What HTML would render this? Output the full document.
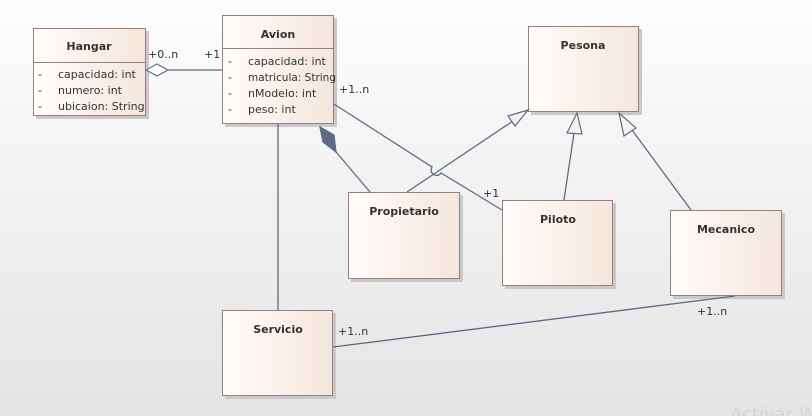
<!DOCTYPE html>
<html><head><meta charset="utf-8"><style>
html,body{margin:0;padding:0;width:812px;height:416px;overflow:hidden}
svg{display:block}
text{font-family:"DejaVu Sans","Liberation Sans",sans-serif;fill:#333}
</style></head><body>
<svg width="812" height="416" xmlns="http://www.w3.org/2000/svg">
<defs>
<linearGradient id="bg" x1="0" y1="0" x2="0" y2="1"><stop offset="0" stop-color="#fdfdfd"/><stop offset="1" stop-color="#e4e4e4"/></linearGradient>
<linearGradient id="bx" x1="0" y1="0" x2="1" y2="0"><stop offset="0" stop-color="#fffcfa"/><stop offset="1" stop-color="#f4e6dc"/></linearGradient>
</defs>
<rect width="812" height="416" fill="url(#bg)"/>
<g fill="#c9c9c9">
<rect x="36" y="31" width="113" height="88"/><rect x="225" y="18" width="112" height="109"/>
<rect x="531" y="29" width="111" height="86"/><rect x="351" y="195" width="112" height="87"/>
<rect x="505" y="203" width="111" height="86"/><rect x="673" y="213" width="112" height="86"/>
<rect x="225" y="313" width="111" height="86"/>
</g>
<g fill="url(#bx)" stroke="#9a7d7d" stroke-width="1">
<rect x="33.5" y="28.5" width="112" height="87"/><rect x="222.5" y="15.5" width="111" height="108"/>
<rect x="528.5" y="26.5" width="110" height="85"/><rect x="348.5" y="192.5" width="111" height="86"/>
<rect x="502.5" y="200.5" width="110" height="85"/><rect x="670.5" y="210.5" width="111" height="85"/>
<rect x="222.5" y="310.5" width="110" height="85"/>
</g>
<g stroke="#9a7d7d"><line x1="33" y1="62.5" x2="146" y2="62.5"/><line x1="222" y1="48.5" x2="334" y2="48.5"/></g>
<g font-size="11" font-weight="bold" text-anchor="middle">
<text x="89" y="50">Hangar</text><text x="278" y="38">Avion</text><text x="583" y="49">Pesona</text>
<text x="404" y="215">Propietario</text><text x="558" y="223">Piloto</text><text x="726" y="233">Mecanico</text>
<text x="278" y="333">Servicio</text>
</g>
<g font-size="11">
<text x="38" y="78">-</text><text x="58" y="78">capacidad: int</text>
<text x="38" y="94">-</text><text x="58" y="94">numero: int</text>
<text x="38" y="110">-</text><text x="58" y="110">ubicaion: String</text>
<text x="228" y="65">-</text><text x="248" y="65">capacidad: int</text>
<text x="228" y="81">-</text><text x="248" y="81" font-size="10.5">matricula: String</text>
<text x="228" y="97">-</text><text x="248" y="97">nModelo: int</text>
<text x="228" y="113">-</text><text x="248" y="113">peso: int</text>
<text x="148" y="58">+0..n</text><text x="204" y="58">+1</text>
<text x="339" y="93">+1..n</text><text x="483" y="197">+1</text>
<text x="338" y="335">+1..n</text><text x="697" y="315">+1..n</text>
</g>
<g stroke="#5f6a85" stroke-width="1.3" fill="none">
<line x1="168" y1="70" x2="222" y2="70"/>
<path d="M334 104 L432 167 A5 5 0 0 0 441 173 L502 210"/>
<line x1="331" y1="146" x2="370" y2="192"/>
<line x1="407" y1="192" x2="513" y2="121"/>
<line x1="564" y1="200" x2="574" y2="133"/>
<line x1="691" y1="210" x2="632" y2="130"/>
<line x1="278" y1="124" x2="278" y2="310"/>
<line x1="333" y1="347" x2="735" y2="296"/>
</g>
<g stroke="#5f6a85" stroke-width="1.2">
<path d="M146 70 L157 64 L168 70 L157 76 Z" fill="#fff"/>
<path d="M320 127 L334 135 L336 152 L323 142 Z" fill="#5f6a85"/>
<path d="M528 110 L508 116 L515 126 Z" fill="#f8f0ec"/>
<path d="M577 113 L567 133 L582 134 Z" fill="#f8f0ec"/>
<path d="M619 113 L624 136 L636 128 Z" fill="#f8f0ec"/>
</g>
<text x="730" y="420" font-size="18" style="fill:#d6d6d6">Activar W</text>
</svg>
</body></html>
